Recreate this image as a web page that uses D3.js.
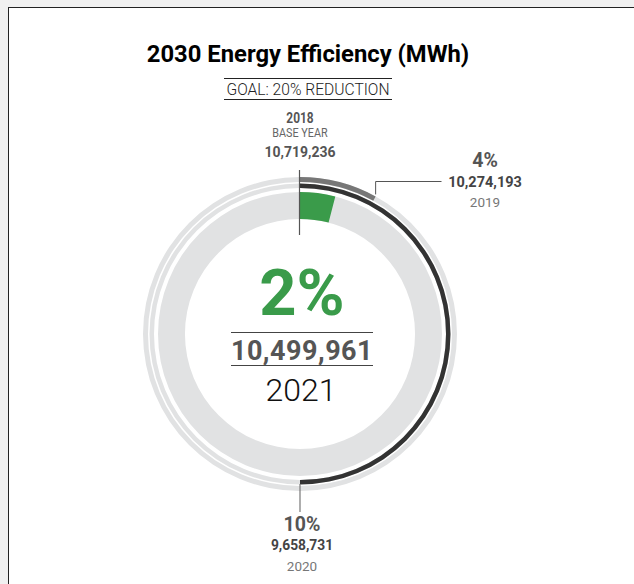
<!DOCTYPE html>
<html>
<head>
<meta charset="utf-8">
<script src="https://cdn.jsdelivr.net/npm/d3@7"></script>
<style>
  body { margin: 0; background: #f0f0f0; }
  #displaybox { position: absolute; left: 8px; top: 7px; width: 700px; height: 700px; background: #fff; border-top: 1.5px solid #222; border-left: 1.5px solid #222; }
  svg { position: absolute; left: -9px; top: -8px; }
  text { font-family: Roboto, "Noto Sans", sans-serif; }
</style>
</head>
<body>
<div id="displaybox"></div>
<script>
// data
const title = "2030 Energy Efficiency (MWh)";
const goal = "GOAL: 20% REDUCTION";
const years = ["2018", "2019", "2020", "2021"];
const usage = [10719236, 10274193, 9658731, 10499961];
const reduction = [0, 4, 10, 2];
// share of its ring each year's arc covers (2019 outer, 2020 middle, 2021 inner)
const ringShare = [0.08, 0.5, 0.04];

let box = d3.select("#displaybox");
let svg = box.append("svg").attr("width", 634).attr("height", 584);

let cx = 300, cy = 334;
let fmt = d3.format(",");

// title
svg.append("text")
    .attr("x", 308).attr("y", 62)
    .attr("text-anchor", "middle")
    .style("font-weight", 700).style("font-size", "23.8px").style("fill", "#000")
    .text(title);
svg.append("line").attr("x1", 224).attr("x2", 392).attr("y1", 78.5).attr("y2", 78.5).style("stroke", "#222");
svg.append("line").attr("x1", 224).attr("x2", 392).attr("y1", 99.5).attr("y2", 99.5).style("stroke", "#222");
svg.append("text")
    .attr("x", 308).attr("y", 95)
    .attr("text-anchor", "middle")
    .style("font-weight", 300).style("font-size", "15.6px").style("fill", "#222")
    .text(goal);

let g = svg.append("g").attr("transform", `translate(${cx}, ${cy})`);

let angle = d3.scaleLinear().domain([0, 1]).range([0, 2 * Math.PI]);

let rings = [
    {inner: 152, outer: 157, color: "#777"},
    {inner: 146, outer: 150.5, color: "#333"},
    {inner: 115, outer: 142, color: "#3a9b4a"}
];

rings.forEach(function(r, i) {
    let arc = d3.arc().innerRadius(r.inner).outerRadius(r.outer);
    g.append("path")
        .attr("d", arc({startAngle: 0, endAngle: 2 * Math.PI}))
        .style("fill", "#e1e2e3");
    g.append("path")
        .attr("d", arc({startAngle: 0, endAngle: angle(ringShare[i])}))
        .style("fill", r.color);
});

// base year marker
g.append("line").attr("x1", -0.5).attr("x2", -0.5).attr("y1", 170 - cy).attr("y2", 235 - cy)
    .style("stroke", "#555").style("stroke-width", 1.2);

let baseLab = svg.append("g").attr("transform", "translate(300, 0)");
baseLab.append("text").attr("y", 123.5).attr("text-anchor", "middle")
    .attr("transform", "scale(0.85,1)")
    .style("font-weight", 700).style("font-size", "14px").style("fill", "#555")
    .text(years[0]);
baseLab.append("text").attr("y", 137.5).attr("text-anchor", "middle")
    .attr("transform", "scale(0.8,1)")
    .style("font-weight", 400).style("font-size", "13.5px").style("fill", "#666")
    .text("BASE YEAR");
baseLab.append("text").attr("y", 157).attr("text-anchor", "middle")
    .style("font-weight", 700).style("font-size", "14px").style("fill", "#555")
    .text(fmt(usage[0]));

// 2019 leader + label
let a19 = angle(ringShare[0]);
let p19 = [cx + 157 * Math.sin(a19), cy - 157 * Math.cos(a19)];
svg.append("polyline")
    .attr("points", `${p19[0]},${p19[1] - 2} ${p19[0]},181.5 441.5,181.5`)
    .style("fill", "none").style("stroke", "#555").style("stroke-width", 1);
let lab19 = svg.append("g").attr("transform", "translate(485, 0)");
lab19.append("text").attr("y", 167).attr("text-anchor", "middle")
    .style("font-weight", 700).style("font-size", "19.5px").style("fill", "#555")
    .text(reduction[1] + "%");
lab19.append("text").attr("y", 187).attr("text-anchor", "middle")
    .style("font-weight", 700).style("font-size", "14.5px").style("fill", "#444")
    .text(fmt(usage[1]));
lab19.append("text").attr("y", 207).attr("text-anchor", "middle")
    .style("font-weight", 400).style("font-size", "13.5px").style("fill", "#777")
    .text(years[1]);

// 2020 leader + label
let a20 = angle(ringShare[1]);
let p20 = [cx + 150 * Math.sin(a20), cy - 150 * Math.cos(a20)];
svg.append("line").attr("x1", p20[0]).attr("x2", p20[0]).attr("y1", p20[1]).attr("y2", 512)
    .style("stroke", "#777").style("stroke-width", 1.2);
let lab20 = svg.append("g").attr("transform", "translate(302, 0)");
lab20.append("text").attr("y", 531).attr("text-anchor", "middle")
    .style("font-weight", 700).style("font-size", "19.5px").style("fill", "#555")
    .text(reduction[2] + "%");
lab20.append("text").attr("y", 550).attr("text-anchor", "middle")
    .style("font-weight", 700).style("font-size", "13.8px").style("fill", "#444")
    .text(fmt(usage[2]));
lab20.append("text").attr("y", 571).attr("text-anchor", "middle")
    .style("font-weight", 400).style("font-size", "13.5px").style("fill", "#777")
    .text(years[2]);

// centre: 2021
g.append("text").attr("x", 2).attr("y", 315 - cy).attr("text-anchor", "middle")
    .style("font-weight", 700).style("font-size", "65px").style("fill", "#3a9b4a")
    .text(reduction[3] + "%");
g.append("line").attr("x1", 231 - cx).attr("x2", 373 - cx).attr("y1", 332.5 - cy).attr("y2", 332.5 - cy)
    .style("stroke", "#444");
g.append("line").attr("x1", 231 - cx).attr("x2", 373 - cx).attr("y1", 365.5 - cy).attr("y2", 365.5 - cy)
    .style("stroke", "#444");
g.append("text").attr("x", 2).attr("y", 360 - cy).attr("text-anchor", "middle")
    .style("font-weight", 700).style("font-size", "27px").style("fill", "#555")
    .style("letter-spacing", "0.5px")
    .text(fmt(usage[3]));
g.append("text").attr("x", 1).attr("y", 401 - cy).attr("text-anchor", "middle")
    .style("font-weight", 300).style("font-size", "32px").style("fill", "#111")
    .text(years[3]);
</script>
</body>
</html>
